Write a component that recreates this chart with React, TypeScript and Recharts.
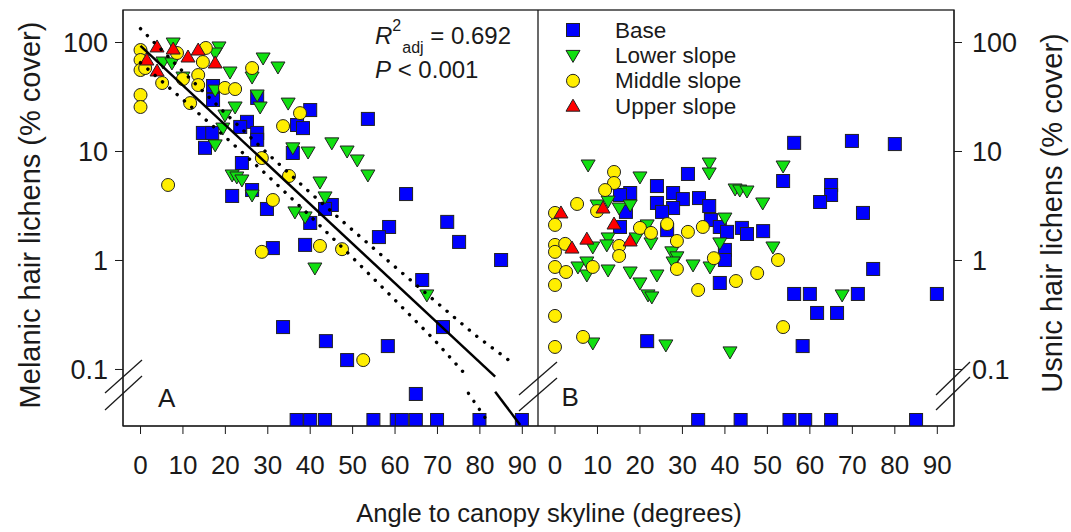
import React from 'react';
import { ScatterChart, Scatter, XAxis, YAxis } from 'recharts';

type Pt = [number, number];

const FONT = '"Liberation Sans", Arial, Helvetica, sans-serif';
const INK = '#1a1a1a';

// ---------- axes ----------
const X_TICKS = [0, 10, 20, 30, 40, 50, 60, 70, 80, 90];
const Y_TICKS = [0.1, 1, 10, 100];
const Y_DOMAIN: [number, number] = [0.0303, 198.7];
const X_DOMAIN_A: [number, number] = [-4.13, 93.7];
const X_DOMAIN_B: [number, number] = [-4.0, 93.93];
const ZERO_ROW = 0.0344; // 0 % cover is drawn below the axis break

// ---------- Panel A: melanic hair lichens ----------
const melanicBase: Pt[] = [
  [17.1, 39.9], [17.1, 29.7], [25.1, 18.7], [23.5, 16.8], [27.5, 14.8], [27.5, 12.8],
  [14.7, 14.8], [16.9, 14.8], [15.2, 10.8], [35.9, 9.69], [23.9, 7.84], [21.6, 3.91],
  [26.3, 4.43], [27.5, 31.0], [40.0, 24.0], [36.9, 17.5], [38.3, 16.4], [53.6, 19.9],
  [62.6, 4.07], [45.1, 3.23], [43.5, 2.97], [40.0, 2.21], [38.8, 1.39], [58.6, 2.03],
  [56.2, 1.64], [72.3, 2.26], [75.1, 1.48], [85.0, 1.01], [66.4, 0.662], [71.3, 0.245],
  [43.7, 0.182], [48.7, 0.122], [58.3, 0.164], [64.9, 0.0596], [29.8, 2.97], [31.2, 1.3],
  [33.6, 0.245],
  [36.8, 0], [40.0, 0], [43.5, 0], [54.9, 0], [60.4, 0], [61.6, 0], [64.9, 0], [69.9, 0],
  [79.9, 0], [89.9, 0],
];
const melanicLower: Pt[] = [
  [7.7, 98.9], [18.5, 91], [17.6, 80.1], [28.9, 72.1], [32.4, 59.6], [21.1, 53.6],
  [26.3, 48.2], [5.3, 66.2], [7.4, 64.9], [10.0, 48.2], [17.6, 36.6], [27.5, 33.0],
  [28.2, 25.6], [22.3, 25.6], [34.8, 27.8], [19.9, 21.6], [19.4, 16.4], [17.6, 11.5],
  [35.9, 10.8], [39.5, 9.89], [21.6, 6.09], [22.7, 5.84], [23.9, 5.48], [45.1, 12.0],
  [48.7, 10.1], [51.1, 8.36], [53.6, 6.09], [42.3, 5.25], [43.5, 3.83], [38.8, 2.51],
  [41.1, 0.853], [67.5, 0.483], [26.3, 3.99], [36.4, 2.79],
];
const melanicMiddle: Pt[] = [
  [0, 85.3], [0, 69.1], [0, 55.9], [1.1, 58.3], [0, 33.0], [0, 25.6], [5.1, 42.5],
  [8.6, 80.1], [10.0, 46.2], [13.6, 50.3], [13.6, 40.7], [14.7, 66.2], [15.4, 89.1],
  [11.7, 27.8], [19.9, 38.3], [22.3, 37.4], [26.3, 58.3], [37.6, 22.5], [33.6, 17.1],
  [28.6, 8.71], [35.0, 5.96], [31.2, 3.59], [6.5, 4.93], [28.6, 1.2], [42.3, 1.36],
  [47.5, 1.27], [52.5, 0.122],
];
const melanicUpper: Pt[] = [
  [3.9, 91], [7.7, 87.1], [11.2, 73.6], [13.6, 85.3], [17.6, 64.9], [1.5, 69.1], [3.9, 54.8],
];

// fitted regression (solid) and its confidence band (dotted)
const fitLineAbove: Pt[] = [[0, 93], [83.6, 0.0859]];
const fitLineBelow: Pt[] = [[83.6, 0.0625], [89.5, 0.031]];
const bandUpper: Pt[] = [
  [0, 134], [9.8, 55.1], [19.7, 23.0], [29.6, 9.86], [39.5, 4.36], [49.4, 1.99],
  [59.3, 0.923], [69.2, 0.432], [79.1, 0.204], [88.3, 0.11],
];
const bandLowerAbove: Pt[] = [
  [0, 65.3], [9.8, 30.4], [19.7, 13.9], [29.6, 6.19], [39.5, 2.67], [49.4, 1.12],
  [59.3, 0.462], [69.2, 0.188], [76.7, 0.0891],
];
const bandLowerBelow: Pt[] = [[77.3, 0.0605], [82.4, 0.0309]];

// ---------- Panel B: usnic hair lichens ----------
const usnicBase: Pt[] = [
  [31.3, 6.22], [24.0, 4.82], [27.8, 4.16], [30.1, 3.66], [33.9, 3.74], [36.3, 3.16],
  [17.7, 4.16], [15.3, 3.99], [24.0, 3.37], [27.8, 3.03], [25.2, 2.79], [16.7, 2.79],
  [15.3, 2.03], [26.4, 1.9], [36.7, 2.35], [38.8, 2.03], [40.5, 1.83], [44.0, 1.99],
  [45.2, 1.75], [49.0, 1.86], [40.0, 1.25], [40.0, 1.01], [53.7, 5.36], [56.3, 12.0],
  [69.9, 12.5], [80.0, 11.7], [65.0, 4.93], [65.0, 3.99], [62.4, 3.44], [72.5, 2.73],
  [74.9, 0.836], [56.3, 0.493], [60.0, 0.493], [71.3, 0.493], [89.9, 0.493], [61.7, 0.33],
  [66.4, 0.33], [58.3, 0.164], [21.7, 0.182], [38.8, 0.622],
  [33.7, 0], [43.7, 0], [55.2, 0], [58.9, 0], [65.0, 0], [85.0, 0],
];
const usnicLower: Pt[] = [
  [7.8, 7.52], [20.0, 5.84], [36.3, 7.84], [36.3, 6.35], [53.7, 7.36], [42.4, 4.53],
  [43.5, 4.43], [45.2, 4.34], [48.9, 3.37], [9.9, 3.23], [12.5, 3.51], [15.1, 3.03],
  [17.7, 3.23], [40.0, 2.45], [21.7, 2.12], [12.5, 1.61], [12.2, 1.39], [8.9, 1.33],
  [19.1, 1.61], [22.6, 1.45], [27.5, 1.2], [28.7, 1.08], [38.8, 1.45], [51.3, 1.33],
  [5.4, 0.872], [7.5, 0.969], [7.5, 0.736], [12.5, 0.818], [17.7, 0.784], [20.0, 0.622],
  [24.0, 0.736], [32.5, 0.91], [36.5, 0.872], [27.8, 0.969], [21.9, 0.483], [22.8, 0.463],
  [26.1, 0.168], [8.9, 0.175], [41.2, 0.145], [67.6, 0.483],
];
const usnicMiddle: Pt[] = [
  [13.9, 6.49], [13.9, 5.14], [11.8, 4.43], [5.2, 3.3], [9.9, 2.84], [0, 2.73], [0, 2.12],
  [20.0, 1.99], [22.6, 1.79], [26.4, 2.16], [28.7, 1.51], [31.3, 1.83], [34.8, 2.03],
  [15.1, 1.36], [15.1, 1.1], [8.9, 0.872], [0, 1.39], [2.4, 1.42], [0, 1.2], [0, 0.872],
  [2.6, 0.784], [0, 0.596], [28.7, 0.836], [37.4, 1.05], [52.5, 1.01], [47.6, 0.767],
  [42.6, 0.648], [33.7, 0.536], [53.7, 0.245], [0, 0.31], [0, 0.161], [6.6, 0.199],
];
const usnicUpper: Pt[] = [
  [1.4, 2.73], [11.3, 3.03], [13.9, 2.16], [7.5, 1.57], [4.0, 1.3], [17.7, 1.51],
];

const SERIES_NAMES = ['Base', 'Lower slope', 'Middle slope', 'Upper slope'];
const COLORS = { base: '#0000ff', lower: '#11e011', middle: '#ffee00', upper: '#ff0000' };

const toRows = (pts: Pt[]) => pts.map(([x, y]) => ({ x, y: y === 0 ? ZERO_ROW : y }));

// ---------- marker shapes ----------
const OUT = '#222';
const SquareMark = (p: any) => (
  <rect x={p.cx - 6.5} y={p.cy - 6.5} width={13} height={13} fill={COLORS.base} stroke={OUT} strokeWidth={1} />
);
const DownTri = (p: any) => (
  <polygon points={`${p.cx - 7},${p.cy - 5} ${p.cx + 7},${p.cy - 5} ${p.cx},${p.cy + 7}`} fill={COLORS.lower} stroke={OUT} strokeWidth={1} />
);
const CircleMark = (p: any) => (
  <circle cx={p.cx} cy={p.cy} r={6.5} fill={COLORS.middle} stroke={OUT} strokeWidth={1} />
);
const UpTri = (p: any) => (
  <polygon points={`${p.cx - 7},${p.cy + 5} ${p.cx + 7},${p.cy + 5} ${p.cx},${p.cy - 7}`} fill={COLORS.upper} stroke={OUT} strokeWidth={1} />
);
const NoMark = () => <g />;

const xTickStyle = { fill: INK, fontSize: 26, fontFamily: FONT };
const yTickStyle = { fill: INK, fontSize: 27, fontFamily: FONT };
const fmtY = (v: number) => String(v);

const solid = { stroke: '#000', strokeWidth: 2.5 };
const dotted = { stroke: '#000', strokeWidth: 3.4, strokeDasharray: '0.1 9.6', strokeLinecap: 'round' as const };

export default function App() {
  const legendRows = [SquareMark, DownTri, CircleMark, UpTri];
  return (
    <div style={{ position: 'absolute', left: 0, top: 0, width: 1071, height: 532, background: '#fff', fontFamily: FONT }}>
      <div style={{ position: 'absolute', left: 0, top: 0 }}>
        <ScatterChart width={539} height={532} margin={{ top: 10, right: 1, bottom: 56, left: 43 }}>
          <XAxis type="number" dataKey="x" domain={X_DOMAIN_A} allowDataOverflow ticks={X_TICKS} interval={0}
            height={50} tickSize={8} tickMargin={22} tick={xTickStyle} stroke={INK} />
          <YAxis type="number" dataKey="y" scale="log" domain={Y_DOMAIN} allowDataOverflow ticks={Y_TICKS}
            width={80} tickSize={8} tickMargin={7} tick={yTickStyle} tickFormatter={fmtY} stroke={INK} />
          <Scatter data={toRows(melanicBase)} shape={SquareMark} isAnimationActive={false} />
          <Scatter data={toRows(melanicLower)} shape={DownTri} isAnimationActive={false} />
          <Scatter data={toRows(melanicMiddle)} shape={CircleMark} isAnimationActive={false} />
          <Scatter data={toRows(melanicUpper)} shape={UpTri} isAnimationActive={false} />
          <Scatter data={toRows(fitLineAbove)} line={solid} shape={NoMark} isAnimationActive={false} />
          <Scatter data={toRows(fitLineBelow)} line={solid} shape={NoMark} isAnimationActive={false} />
          <Scatter data={toRows(bandUpper)} line={dotted} shape={NoMark} isAnimationActive={false} />
          <Scatter data={toRows(bandLowerAbove)} line={dotted} shape={NoMark} isAnimationActive={false} />
          <Scatter data={toRows(bandLowerBelow)} line={dotted} shape={NoMark} isAnimationActive={false} />
        </ScatterChart>
      </div>
      <div style={{ position: 'absolute', left: 538, top: 0 }}>
        <ScatterChart width={533} height={532} margin={{ top: 10, right: 37, bottom: 56, left: 0 }}>
          <XAxis type="number" dataKey="x" domain={X_DOMAIN_B} allowDataOverflow ticks={X_TICKS} interval={0}
            height={50} tickSize={8} tickMargin={22} tick={xTickStyle} stroke={INK} />
          <YAxis type="number" dataKey="y" orientation="right" scale="log" domain={Y_DOMAIN} allowDataOverflow ticks={Y_TICKS}
            width={80} tickSize={8} tickMargin={10} tick={yTickStyle} tickFormatter={fmtY} stroke={INK} />
          <Scatter data={toRows(usnicBase)} shape={SquareMark} isAnimationActive={false} />
          <Scatter data={toRows(usnicLower)} shape={DownTri} isAnimationActive={false} />
          <Scatter data={toRows(usnicMiddle)} shape={CircleMark} isAnimationActive={false} />
          <Scatter data={toRows(usnicUpper)} shape={UpTri} isAnimationActive={false} />
        </ScatterChart>
      </div>
      <svg width={1071} height={532} style={{ position: 'absolute', left: 0, top: 0, pointerEvents: 'none' }}
        fontFamily={FONT}>
        <rect x={123} y={10} width={831} height={416} fill="none" stroke={INK} strokeWidth={1.3} />
        <line x1={538} y1={10} x2={538} y2={426} stroke={INK} strokeWidth={1.3} />
        {/* axis break marks */}
        <g stroke={INK} strokeWidth={1.3}>
          <line x1={105} y1={393} x2={142} y2={360} />
          <line x1={105} y1={410} x2={142} y2={376} />
          <line x1={519} y1={395} x2={557} y2={362} />
          <line x1={519} y1={411} x2={557} y2={378} />
          <line x1={936} y1={395} x2={970} y2={362} />
          <line x1={936} y1={410} x2={970} y2={377} />
        </g>
        {/* panel letters */}
        <text x={158} y={406.5} fontSize={26} fill={INK}>A</text>
        <text x={561.5} y={405.5} fontSize={26} fill={INK}>B</text>
        {/* statistics */}
        <text x={375} y={43.5} fontSize={24} fill={INK}>
          <tspan fontStyle="italic">R</tspan>
          <tspan fontSize={16} dy={-13}>2</tspan>
          <tspan fontSize={16} dx={1} dy={22}>adj</tspan>
          <tspan dy={-9}> = 0.692</tspan>
        </text>
        <text x={375} y={77.5} fontSize={24} fill={INK}>
          <tspan fontStyle="italic">P</tspan>
          <tspan> &lt; 0.001</tspan>
        </text>
        {/* legend */}
        {SERIES_NAMES.map((name, i) => {
          const y = 30 + 25.4 * i;
          const Mark = legendRows[i];
          return (
            <g key={name}>
              <Mark cx={573} cy={y} />
              <text x={615} y={y + 7.5} fontSize={22.5} fill={INK}>{name}</text>
            </g>
          );
        })}
        {/* axis titles */}
        <text x={549} y={522} fontSize={25.6} fill={INK} textAnchor="middle">Angle to canopy skyline (degrees)</text>
        <text transform="translate(40,215) rotate(-90)" fontSize={29} fill={INK} textAnchor="middle">Melanic hair lichens (% cover)</text>
        <text transform="translate(1062,213) rotate(-90)" fontSize={29} fill={INK} textAnchor="middle">Usnic hair lichens (% cover)</text>
      </svg>
    </div>
  );
}
